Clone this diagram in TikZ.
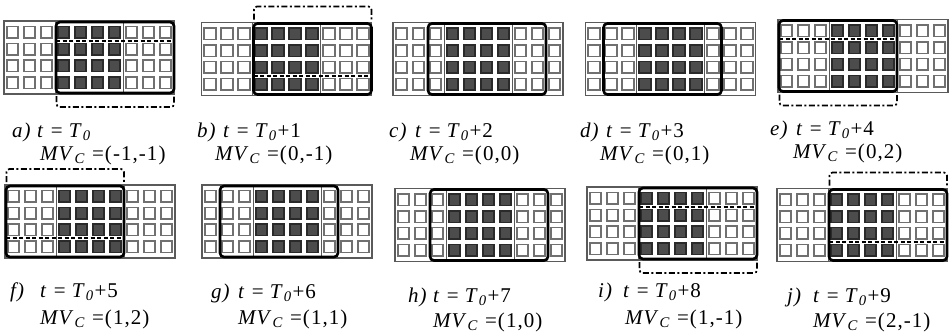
\documentclass[tikz,border=0pt]{standalone}
\usepackage{fontspec}
\setmainfont{Liberation Serif}[LetterSpace=5]
\definecolor{sqedge}{HTML}{707070}
\definecolor{darkfill}{HTML}{4C4C4C}
\definecolor{darkedge}{HTML}{2A2A2A}
\definecolor{framecol}{HTML}{5A5A5A}
\tikzset{
  wsq/.style={draw=sqedge,line width=1.6pt,fill=white},
  dsq/.style={draw=darkedge,line width=1.6pt,fill=darkfill},
  framelines/.style={draw=framecol,line width=1.1pt},
  blockline/.style={draw=framecol,line width=0.9pt},
  win/.style={draw=black,line width=2.6pt,rounded corners=4pt},
  dotline/.style={draw=black,line width=1.7pt,dash pattern=on 4pt off 2.5pt},
  ddline/.style={draw=black,line width=1.7pt,dash pattern=on 6pt off 2.5pt on 2pt off 2.5pt,rounded corners=3pt},
  lab/.style={anchor=base west,inner sep=0pt,font=\fontsize{21}{24}\selectfont}
}
\newcommand\gridpanel[4]{%
  \begin{scope}[shift={(#1,#2)}]
    \draw[framelines] (0,0) rectangle (170,73);
    \foreach \i in {0,...,9}{
      \foreach \j in {0,...,3}{
        \ifnum\i<3 \def\st{wsq}\else\ifnum\i<7 \def\st{dsq}\else\def\st{wsq}\fi\fi
        \draw[\st] ({2.75+17*\i},{5.6+16.75*\j}) rectangle ++(11.5,11.5);
      }
    }
    \draw[blockline] (51,0) rectangle (119,73);
    \draw[win] ({17*#3+1},1) rectangle ({17*#3+119},72);
    \ifnum#4=1
      \draw[dotline] ({17*#3+1},19.75) -- ({17*#3+119},19.75);
      \draw[ddline] ({17*#3+1.5},75) -- ({17*#3+1.5},86) -- ({17*#3+119},86) -- ({17*#3+119},75);
    \fi
    \ifnum#4=-1
      \draw[dotline] ({17*#3+1},53.25) -- ({17*#3+119},53.25);
      \draw[ddline] ({17*#3+1.5},-3) -- ({17*#3+1.5},-16) -- ({17*#3+119},-16) -- ({17*#3+119},-3);
    \fi
  \end{scope}}
\begin{document}
\begin{tikzpicture}[x=1pt,y=-1pt]
\useasboundingbox (0,0) rectangle (951,333);
% top row
\gridpanel{4}{21}{3}{1}
\gridpanel{201.5}{22.5}{3}{-1}
\gridpanel{393}{22.5}{2}{0}
\gridpanel{585.5}{22.5}{1}{0}
\gridpanel{778}{19.5}{0}{1}
% bottom row
\gridpanel{5}{185}{0}{-1}
\gridpanel{202}{185}{1}{0}
\gridpanel{395}{188.5}{2}{0}
\gridpanel{587}{187}{3}{1}
\gridpanel{777}{188.5}{3}{-1}
% labels top row
\node[lab] (la) at (12,137) {\textit{a)}};
\node[lab] (ta) at (37,137) {\textit{t} = \textit{T}\textsubscript{\textit{0}}};
\node[lab] (ma) at (40,160) {\textit{MV}\textsubscript{\textit{C}} =(-1,-1)};
\node[lab] (lb) at (197,137) {\textit{b)}};
\node[lab] (tb) at (223,137) {\textit{t} = \textit{T}\textsubscript{\textit{0}}+1};
\node[lab] (mb) at (215,160) {\textit{MV}\textsubscript{\textit{C}} =(0,-1)};
\node[lab] (lc) at (389,137) {\textit{c)}};
\node[lab] (tc) at (415,137) {\textit{t} = \textit{T}\textsubscript{\textit{0}}+2};
\node[lab] (mc) at (410,160) {\textit{MV}\textsubscript{\textit{C}} =(0,0)};
\node[lab] (ld) at (580,137) {\textit{d)}};
\node[lab] (td) at (606,137) {\textit{t} = \textit{T}\textsubscript{\textit{0}}+3};
\node[lab] (md) at (600,160) {\textit{MV}\textsubscript{\textit{C}} =(0,1)};
\node[lab] (le) at (770,135) {\textit{e)}};
\node[lab] (te) at (796,135) {\textit{t} = \textit{T}\textsubscript{\textit{0}}+4};
\node[lab] (me) at (793,158) {\textit{MV}\textsubscript{\textit{C}} =(0,2)};
% labels bottom row
\node[lab] (lf) at (10,297) {\textit{f)}};
\node[lab] (tf) at (40,297) {\textit{t} = \textit{T}\textsubscript{\textit{0}}+5};
\node[lab] (mf) at (40,324) {\textit{MV}\textsubscript{\textit{C}} =(1,2)};
\node[lab] (lg) at (211,298) {\textit{g)}};
\node[lab] (tg) at (238,298) {\textit{t} = \textit{T}\textsubscript{\textit{0}}+6};
\node[lab] (mg) at (238,324) {\textit{MV}\textsubscript{\textit{C}} =(1,1)};
\node[lab] (lh) at (408,302) {\textit{h)}};
\node[lab] (th) at (433,302) {\textit{t} = \textit{T}\textsubscript{\textit{0}}+7};
\node[lab] (mh) at (433,327) {\textit{MV}\textsubscript{\textit{C}} =(1,0)};
\node[lab] (li) at (598,297) {\textit{i)}};
\node[lab] (ti) at (623,297) {\textit{t} = \textit{T}\textsubscript{\textit{0}}+8};
\node[lab] (mi) at (625,324) {\textit{MV}\textsubscript{\textit{C}} =(1,-1)};
\node[lab] (lj) at (787,302) {\textit{j)}};
\node[lab] (tj) at (813,302) {\textit{t} = \textit{T}\textsubscript{\textit{0}}+9};
\node[lab] (mj) at (813,327) {\textit{MV}\textsubscript{\textit{C}} =(2,-1)};
\end{tikzpicture}
\end{document}
